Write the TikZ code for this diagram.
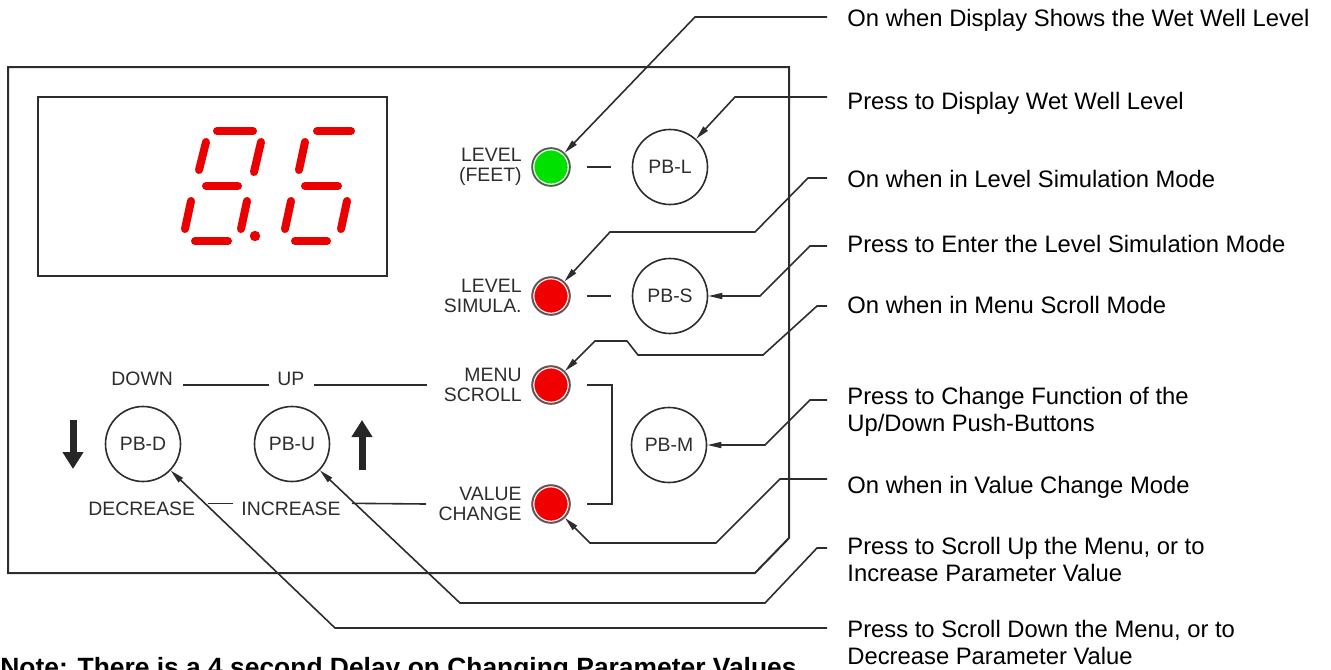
\documentclass[tikz,border=0pt]{standalone}
\usepackage{fontspec}
\setmainfont{Liberation Sans}
\usetikzlibrary{arrows.meta}

\definecolor{segred}{RGB}{235,0,0}
\definecolor{ledred}{RGB}{240,0,0}
\definecolor{ledgreen}{RGB}{0,225,0}
\definecolor{inkgray}{RGB}{45,45,45}

\tikzset{
	panel/.style={draw=inkgray, line width=1pt},
	seg/.style={draw=segred, line width=4pt, line cap=round},
	led/.style={circle, minimum size=19pt, inner sep=0pt, draw=black!65, line width=0.8pt,
		path picture={\draw[white, line width=0.6pt] (path picture bounding box.center) circle[radius=8.6pt];}},
	pbutton/.style={circle, minimum size=37.5pt, inner sep=0pt, draw=inkgray, line width=0.8pt,
		text=inkgray, font=\fontsize{9.7}{10}\selectfont},
	lbl/.style={inner sep=0pt, align=right, text=inkgray, font=\fontsize{9.7}{10}\selectfont},
	tie/.style={draw=inkgray, line width=0.8pt},
	callout/.style={draw=inkgray, line width=0.8pt, -{Triangle[length=7pt,width=3pt]}},
	calltext/.style={inner sep=0pt, align=left, font=\fontsize{11.9}{13.5}\selectfont},
	bigarrow/.style={draw=black!85, line width=3.5pt, -{Triangle[length=8.5pt,width=10pt]}}
}

\begin{document}
\begin{tikzpicture}[x=0.5pt, y=-0.5pt]
	%\draw[help lines] (0,0) grid[step=50] (1331,669);
	\useasboundingbox (0,0) rectangle (1331,669);
	\clip (0,0) rectangle (1331,669);

	% panel and display
	\draw[panel] (8,67) -- (789,67) -- (789,538) -- (755,573) -- (8,573) -- cycle;
	\draw[panel] (38,97) rectangle (387,276);

	% digit 8
	\draw[seg] (217,131) -- (253,131);
	\draw[seg] (206,142) -- (199,170);
	\draw[seg] (261,142) -- (254,172);
	\draw[seg] (206,186) -- (238,186);
	\draw[seg] (191,201) -- (185,229);
	\draw[seg] (247,201) -- (241,229);
	\draw[seg] (195,241) -- (228,241);
	\fill[segred] (255,236) circle[radius=2.6pt];
	% digit 6
	\draw[seg] (317,131) -- (351,131);
	\draw[seg] (305,142) -- (299,170);
	\draw[seg] (305,186) -- (338,186);
	\draw[seg] (291,201) -- (285,229);
	\draw[seg] (347,201) -- (341,229);
	\draw[seg] (295,241) -- (327,241);

	% lamps
	\node[led, fill=ledgreen] (ledlevel) at (551,167) {};
	\node[led, fill=ledred] (ledsim) at (551,296) {};
	\node[led, fill=ledred] (ledmenu) at (551,385) {};
	\node[led, fill=ledred] (ledvalue) at (551,504) {};
	\node[lbl, anchor=east] (lbllevel) at (522,167) {LEVEL\\(FEET)};
	\node[lbl, anchor=east] (lblsim) at (522,296) {LEVEL\\SIMULA.};
	\node[lbl, anchor=east] (lblmenu) at (522,385) {MENU\\SCROLL};
	\node[lbl, anchor=east] (lblvalue) at (522,504) {VALUE\\CHANGE};

	% push-buttons
	\node[pbutton] (pbl) at (670,167) {PB-L};
	\node[pbutton] (pbs) at (670,296) {PB-S};
	\node[pbutton] (pbm) at (669,445) {PB-M};
	\node[pbutton] (pbd) at (143,444) {PB-D};
	\node[pbutton] (pbu) at (292,444) {PB-U};

	\draw[tie] ([xshift=8pt]ledlevel.east) -- ([xshift=-10.5pt]pbl.west);
	\draw[tie] ([xshift=8pt]ledsim.east) -- ([xshift=-10.5pt]pbs.west);
	\draw[tie] ([xshift=8pt]ledmenu.east) -- ++(25,0) |- ([xshift=8pt]ledvalue.east);

	\node[lbl, anchor=base west] (down) at (111,385) {DOWN};
	\node[lbl, anchor=base west] (up) at (277,385) {UP};
	\node[lbl, anchor=base west] (decr) at (88,515) {DECREASE};
	\node[lbl, anchor=base west] (incr) at (241,515) {INCREASE};
	\draw[tie] ([xshift=5pt]down.base east) -- ([xshift=-4pt]up.base west);
	\draw[tie] ([xshift=4.5pt]up.base east) -- ([xshift=-8.5pt]lblmenu.west);
	\draw[tie] ([xshift=6pt,yshift=2.5pt]decr.east) -- ([xshift=-4pt,yshift=2.5pt]incr.west);
	\draw[tie] ([xshift=5.5pt,yshift=2.5pt]incr.east) -- ([xshift=-6pt]lblvalue.west);

	\draw[bigarrow] (73,420) -- (73,469);
	\draw[bigarrow] (362,470) -- (362,420);

	% callouts
	\node[calltext, anchor=base west] (t1) at (847,26) {On when Display Shows the Wet Well Level};
	\node[calltext, anchor=base west] (t2) at (847,109) {Press to Display Wet Well Level};
	\node[calltext, anchor=base west] (t3) at (847,187) {On when in Level Simulation Mode};
	\node[calltext, anchor=base west] (t4) at (847,252) {Press to Enter the Level Simulation Mode};
	\node[calltext, anchor=base west] (t5) at (847,313) {On when in Menu Scroll Mode};
	\node[calltext, anchor=north west] (t6) at (847,387) {Press to Change Function of the\\Up/Down Push-Buttons};
	\node[calltext, anchor=base west] (t7) at (847,493) {On when in Value Change Mode};
	\node[calltext, anchor=north west] (t8) at (847,537) {Press to Scroll Up the Menu, or to\\Increase Parameter Value};
	\node[calltext, anchor=north west] (t9) at (847,620) {Press to Scroll Down the Menu, or to\\Decrease Parameter Value};

	\coordinate (c1) at (827,17);
	\coordinate (c2) at (827,97);
	\coordinate (c3) at (827,178);
	\coordinate (c4) at (827,246);
	\coordinate (c5) at (827,306);
	\coordinate (c6) at (827,400);
	\coordinate (c7) at (827,479);
	\coordinate (c8) at (827,548);
	\coordinate (c9) at (827,628);
	\draw[callout] (c1) -- (695,17) -- (ledlevel);
	\draw[callout] (c2) -- (735,97) -- (pbl);
	\draw[callout] (c3) -- (808,178) -- (755,232) -- (610,232) -- (ledsim);
	\draw[callout] (c4) -- (810,246) -- (760,296) -- (pbs);
	\draw[callout] (c5) -- (817,306) -- (763,355) -- (638,355) -- (627,341) -- (595,341) -- (ledmenu);
	\draw[callout] (c6) -- (810,400) -- (765,445) -- (pbm);
	\draw[callout] (c7) -- (780,479) -- (716,543) -- (590,543) -- (ledvalue);
	\draw[callout] (c8) -- (817,548) -- (765,603) -- (460,603) -- (pbu);
	\draw[callout] (c9) -- (335,628) -- (pbd);

	\node[anchor=base west, inner sep=0pt, font=\bfseries\fontsize{13.2}{15}\selectfont] (note) at (0,676)
		{Note: There is a 4 second Delay on Changing Parameter Values};
\end{tikzpicture}
\end{document}
